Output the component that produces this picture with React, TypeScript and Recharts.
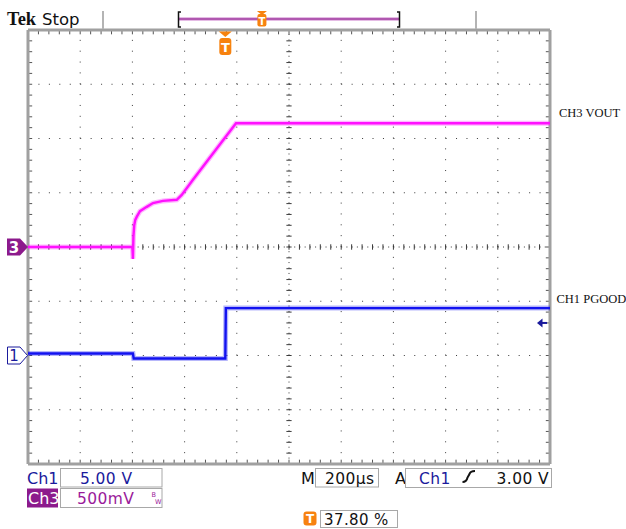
import React from "react";
import {
  ComposedChart,
  Line,
  XAxis,
  YAxis,
  ReferenceLine,
  ReferenceDot,
} from "recharts";

// horizontal: 200 us/div, 10 divs, trigger at 37.8 % of record
const T_MIN = -756;
const T_MAX = 1244;
const T_DIV = 200;
const TRIG_PCT = 37.8;

// CH3 (VOUT), 500 mV/div, ground on the centre line
const CH3_SCALE = 0.5;
const CH3_OFFSET = 0;
const ch3Time = [-756, -356, -354, -352, -349, -345, -339, -327, -301, -277, -239, -186, -167, -124, 41, 1244];
const ch3Volts = [0, 0, -0.11, 0.1, 0.2, 0.25, 0.28, 0.33, 0.37, 0.405, 0.425, 0.435, 0.48, 0.62, 1.14, 1.14];

// CH1 (PGOOD), 5 V/div, ground two divs below centre
const CH1_SCALE = 5;
const CH1_OFFSET = -2;
const ch1Time = [-756, -354, -351, 0, 2, 1244];
const ch1Volts = [0.18, 0.18, -0.27, -0.27, 4.37, 4.37];
const TRIG_LEVEL = 3.0;

const MAGENTA = "#ff10ff";
const BLUE = "#1212f0";
const PURPLE = "#8c1a8c";
const NAVY = "#1a1a9c";
const ORANGE = "#f7820f";
const FONT = "'DejaVu Sans', sans-serif";

const ch3Data = ch3Time.map((t, i) => ({ t, v: ch3Volts[i] / CH3_SCALE + CH3_OFFSET }));
const ch1Data = ch1Time.map((t, i) => ({ t, v: ch1Volts[i] / CH1_SCALE + CH1_OFFSET }));

const majorX = Array.from({ length: 9 }, (_, i) => T_MIN + (i + 1) * T_DIV);
const majorY = [-3, -2, -1, 1, 2, 3];
const minorX = Array.from({ length: 51 }, (_, i) => T_MIN + i * (T_DIV / 5));
const minorY = Array.from({ length: 41 }, (_, i) => -4 + i * 0.2);
const T_CENTER = T_MIN + 5 * T_DIV;

const ch3Marker = ({ cx, cy }: any) => (
  <g>
    <polygon
      points={`${cx - 21},${cy - 8.5} ${cx - 8},${cy - 8.5} ${cx},${cy} ${cx - 8},${cy + 8.5} ${cx - 21},${cy + 8.5}`}
      fill={PURPLE}
    />
    <text x={cx - 14} y={cy + 5.5} textAnchor="middle" fill="#fff" fontFamily={FONT} fontWeight={700} fontSize={15}>
      3
    </text>
  </g>
);

const ch1Marker = ({ cx, cy }: any) => (
  <g>
    <polygon
      points={`${cx - 20.5},${cy - 8.5} ${cx - 8},${cy - 8.5} ${cx - 0.5},${cy} ${cx - 8},${cy + 8.5} ${cx - 20.5},${cy + 8.5}`}
      fill="#fff"
      stroke={NAVY}
      strokeWidth={1}
    />
    <text x={cx - 14} y={cy + 5.5} textAnchor="middle" fill={NAVY} fontFamily={FONT} fontSize={15}>
      1
    </text>
  </g>
);

const trigMarker = ({ cx, cy }: any) => (
  <g>
    <polygon points={`${cx - 6.5},${cy + 1.5} ${cx + 6.5},${cy + 1.5} ${cx},${cy + 7}`} fill={ORANGE} />
    <rect x={cx - 6} y={cy + 8} width={12} height={17} rx={3} fill={ORANGE} />
    <text x={cx} y={cy + 21.5} textAnchor="middle" fill="#fff" fontFamily={FONT} fontWeight={700} fontSize={13}>
      T
    </text>
  </g>
);

const levelArrow = ({ cx, cy }: any) => (
  <g>
    <polygon points={`${cx - 13},${cy} ${cx - 7.5},${cy - 4.5} ${cx - 7.5},${cy + 4.5}`} fill={NAVY} />
    <line x1={cx - 8} y1={cy} x2={cx - 3} y2={cy} stroke={NAVY} strokeWidth={2} />
  </g>
);

const sideLabel = (text: string, dx: number, dy: number) => ({ cx, cy }: any) => (
  <text x={cx + dx} y={cy + dy} fill="#111" fontFamily="'Liberation Serif', serif" fontSize={12.5}>
    {text}
  </text>
);

function Readouts() {
  const recL = 178;
  const recR = 400;
  const recT = recL + ((recR - recL) * TRIG_PCT) / 100;
  const box = { fill: "none", stroke: "#a8a8a8", strokeWidth: 1 };
  return (
    <svg
      width={626}
      height={529}
      style={{ position: "absolute", left: 0, top: 0, pointerEvents: "none" }}
    >
      {/* status bar */}
      <text x={7} y={25} fontFamily="'Liberation Serif', serif" fontWeight={700} fontSize={18.5} fill="#111">
        Tek
      </text>
      <text x={42} y={25} fontFamily={FONT} fontSize={16.5} fill="#111">
        Stop
      </text>
      <line x1={103} y1={11} x2={103} y2={29} stroke="#b4b4b4" strokeWidth={2} />
      <line x1={476} y1={11} x2={476} y2={29} stroke="#b4b4b4" strokeWidth={2} />
      <line x1={179} y1={19} x2={399} y2={19} stroke="#dca6dc" strokeWidth={3.5} />
      <line x1={179} y1={19} x2={399} y2={19} stroke="#a23ea2" strokeWidth={1.3} />
      <path d={`M181,12 L178.5,12 L178.5,27 L181,27`} fill="none" stroke="#111" strokeWidth={1.5} />
      <path d={`M397,12 L399.5,12 L399.5,27 L397,27`} fill="none" stroke="#111" strokeWidth={1.5} />
      <polygon points={`${recT - 5},11 ${recT + 5},11 ${recT},15`} fill={ORANGE} />
      <rect x={recT - 4.5} y={14} width={9} height={12.5} rx={2} fill={ORANGE} />
      <text x={recT} y={24.5} textAnchor="middle" fill="#fff" fontFamily={FONT} fontWeight={700} fontSize={10}>
        T
      </text>

      {/* channel readouts */}
      <text x={27} y={484} fontFamily={FONT} fontSize={16} fill={NAVY}>
        Ch1
      </text>
      <rect x={60.5} y={468.5} width={101.5} height={18.5} {...box} />
      <text x={80} y={484} fontFamily={FONT} fontSize={15.5} fill={NAVY} letterSpacing={0.4}>
        5.00 V
      </text>
      <rect x={27} y={488.5} width={31} height={19} fill={PURPLE} />
      <text x={28} y={504} fontFamily={FONT} fontSize={16} fill="#fff">
        Ch3
      </text>
      <rect x={60.5} y={488.5} width={101.5} height={19} {...box} />
      <text x={77} y={504} fontFamily={FONT} fontSize={15.5} fill="#9a1a9a" letterSpacing={0.4}>
        500mV
      </text>
      <text x={151.5} y={496.5} fontFamily={FONT} fontSize={6.5} fill="#9a1a9a">
        B
      </text>
      <text x={155} y={504} fontFamily={FONT} fontSize={6.5} fill="#9a1a9a">
        W
      </text>

      {/* timebase and trigger readouts */}
      <text x={301} y={484} fontFamily={FONT} fontSize={16} fill="#111">
        M
      </text>
      <rect x={315.5} y={468.5} width={63} height={18.5} {...box} />
      <text x={325} y={484} fontFamily={FONT} fontSize={15.5} fill="#111" letterSpacing={0.4}>
        200µs
      </text>
      <text x={395} y={484} fontFamily={FONT} fontSize={16} fill="#111">
        A
      </text>
      <rect x={405.5} y={468.5} width={146} height={19} {...box} />
      <text x={419} y={484} fontFamily={FONT} fontSize={15.5} fill={NAVY} letterSpacing={0.4}>
        Ch1
      </text>
      <path
        d="M462.5,482 Q466.5,482 467.5,477.5 L469.5,474 Q470.5,471 475,471"
        fill="none"
        stroke="#111"
        strokeWidth={2}
      />
      <text x={549} y={484} textAnchor="end" fontFamily={FONT} fontSize={15.5} fill="#111" letterSpacing={0.4}>
        3.00 V
      </text>
      <rect x={303.5} y={511.5} width={13} height={14} rx={3} fill={ORANGE} />
      <text x={310} y={523} textAnchor="middle" fill="#fff" fontFamily={FONT} fontWeight={700} fontSize={12}>
        T
      </text>
      <rect x={320.5} y={510.5} width={77} height={17} {...box} />
      <text x={324} y={525} fontFamily={FONT} fontSize={15} fill="#111" letterSpacing={0.4}>
        {`${TRIG_PCT.toFixed(2)} %`}
      </text>
    </svg>
  );
}

export default function App() {
  const dot = "#3a3a3a";
  return (
    <div style={{ position: "absolute", left: 0, top: 0, width: 626, height: 529, background: "#fff" }}>
      <ComposedChart
        width={626}
        height={529}
        margin={{ top: 30, right: 76, bottom: 65, left: 28 }}
      >
        <XAxis dataKey="t" type="number" domain={[T_MIN, T_MAX]} hide allowDataOverflow />
        <YAxis type="number" domain={[-4, 4]} hide allowDataOverflow />

        {/* dotted graticule */}
        {majorX.filter((t) => t !== T_CENTER).map((t) => (
          <ReferenceLine key={`gx${t}`} x={t} stroke={dot} strokeWidth={1} strokeDasharray="1 9.85" />
        ))}
        {majorY.map((y) => (
          <ReferenceLine key={`gy${y}`} y={y} stroke={dot} strokeWidth={1} strokeDasharray="1 9.44" />
        ))}
        <ReferenceLine x={T_CENTER} stroke={dot} strokeWidth={1} strokeDasharray="1 4.43" />
        <ReferenceLine y={0} stroke={dot} strokeWidth={1} strokeDasharray="1 4.22" />
        {minorX.map((t) => (
          <ReferenceLine
            key={`cx${t}`}
            segment={[{ x: t, y: -0.05 }, { x: t, y: 0.05 }]}
            stroke={dot}
          />
        ))}
        {minorY.map((y) => (
          <ReferenceLine
            key={`cy${y}`}
            segment={[{ x: T_CENTER - 10, y }, { x: T_CENTER + 10, y }]}
            stroke={dot}
          />
        ))}

        {/* frame with edge ticks */}
        {minorX.map((t) => (
          <ReferenceLine key={`tt${t}`} segment={[{ x: t, y: 4 }, { x: t, y: 3.92 }]} stroke="#555" />
        ))}
        {minorX.map((t) => (
          <ReferenceLine key={`tb${t}`} segment={[{ x: t, y: -4 }, { x: t, y: -3.92 }]} stroke="#555" />
        ))}
        {minorY.map((y) => (
          <ReferenceLine key={`tl${y}`} segment={[{ x: T_MIN, y }, { x: T_MIN + 16, y }]} stroke="#555" />
        ))}
        {minorY.map((y) => (
          <ReferenceLine key={`tr${y}`} segment={[{ x: T_MAX, y }, { x: T_MAX - 16, y }]} stroke="#555" />
        ))}
        <ReferenceLine x={T_MIN} stroke="#a0a0a0" strokeWidth={3} ifOverflow="visible" />
        <ReferenceLine x={T_MAX} stroke="#a0a0a0" strokeWidth={3} ifOverflow="visible" />
        <ReferenceLine y={4} stroke="#a0a0a0" strokeWidth={3} ifOverflow="visible" />
        <ReferenceLine y={-4} stroke="#a0a0a0" strokeWidth={3} ifOverflow="visible" />

        {/* traces: soft halo under a solid core */}
        <Line data={ch3Data} dataKey="v" type="linear" stroke={MAGENTA} strokeOpacity={0.3} strokeWidth={5} dot={false} isAnimationActive={false} />
        <Line data={ch3Data} dataKey="v" type="linear" stroke={MAGENTA} strokeWidth={2.4} dot={false} isAnimationActive={false} />
        <Line data={ch1Data} dataKey="v" type="linear" stroke={BLUE} strokeOpacity={0.3} strokeWidth={5} dot={false} isAnimationActive={false} />
        <Line data={ch1Data} dataKey="v" type="linear" stroke={BLUE} strokeWidth={2.4} dot={false} isAnimationActive={false} />

        <ReferenceDot x={T_MIN} y={CH3_OFFSET} r={0} ifOverflow="visible" shape={ch3Marker} />
        <ReferenceDot x={T_MIN} y={CH1_OFFSET} r={0} ifOverflow="visible" shape={ch1Marker} />
        <ReferenceDot x={0} y={4} r={0} ifOverflow="visible" shape={trigMarker} />
        <ReferenceDot x={T_MAX} y={TRIG_LEVEL / CH1_SCALE + CH1_OFFSET} r={0} ifOverflow="visible" shape={levelArrow} />
        <ReferenceDot
          x={T_MAX}
          y={ch3Volts[ch3Volts.length - 1] / CH3_SCALE + CH3_OFFSET}
          r={0}
          ifOverflow="visible"
          shape={sideLabel("CH3 VOUT", 9, -6)}
        />
        <ReferenceDot
          x={T_MAX}
          y={ch1Volts[ch1Volts.length - 1] / CH1_SCALE + CH1_OFFSET}
          r={0}
          ifOverflow="visible"
          shape={sideLabel("CH1 PGOOD", 6.5, -5)}
        />
      </ComposedChart>
      <Readouts />
    </div>
  );
}
